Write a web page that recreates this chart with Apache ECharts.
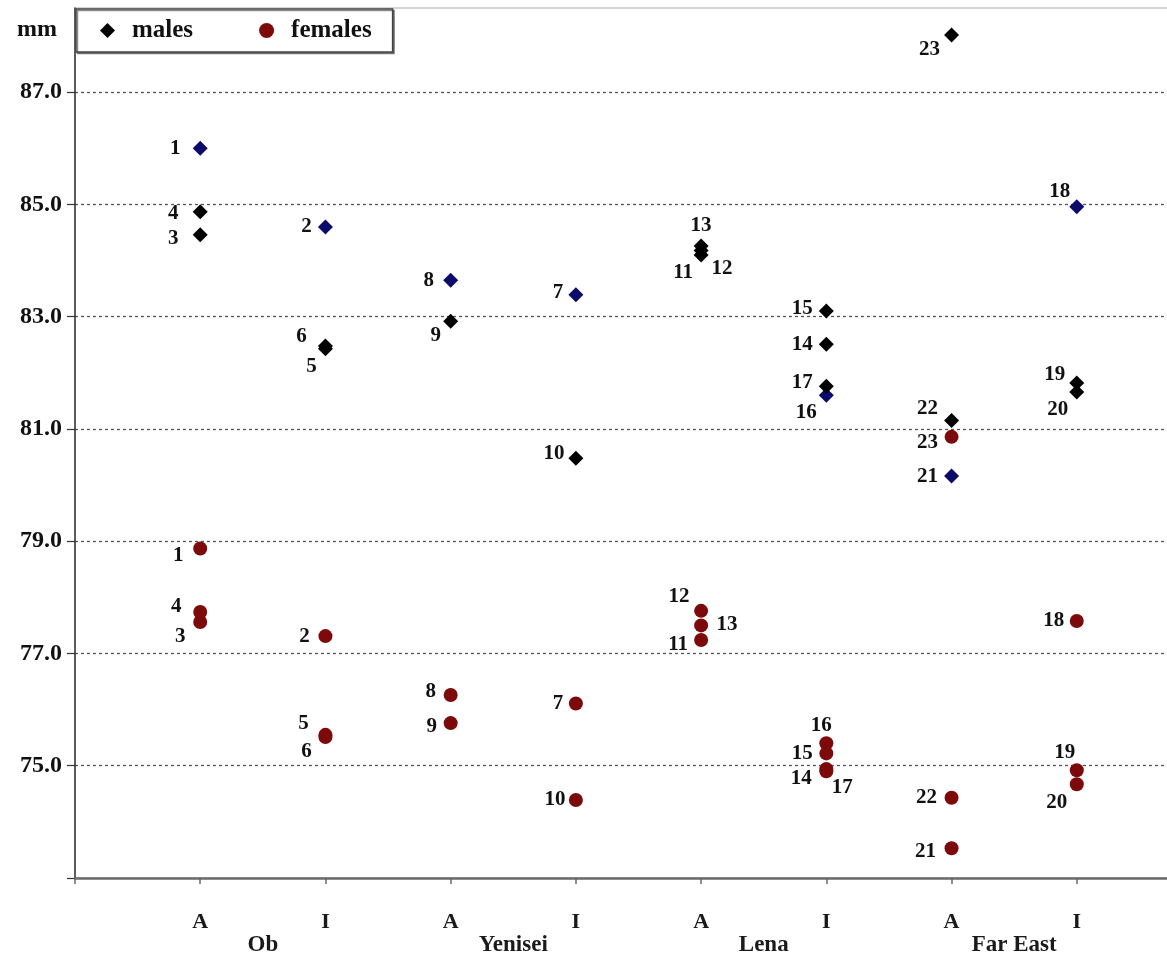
<!DOCTYPE html>
<html>
<head>
<meta charset="utf-8">
<script src="https://cdn.jsdelivr.net/npm/echarts@6/dist/echarts.min.js"></script>
<style>
  html, body { margin: 0; padding: 0; background: #fff; }
  #chart1 { width: 1167px; height: 959px; }
</style>
</head>
<body>
<div id="chart1"></div>
<script>
// categories along the x axis (1..8), region under each A/I pair
const categories = ['A', 'I', 'A', 'I', 'A', 'I', 'A', 'I'];
const regions = ['Ob', 'Yenisei', 'Lena', 'Far East'];
const yLabels = [75, 77, 79, 81, 83, 85, 87];

// sample number -> category position (same for both sexes)
const sampleCat = [1, 2, 1, 1, 2, 2, 4, 3, 3, 4, 5, 5, 5, 6, 6, 6, 6, 8, 8, 8, 7, 7, 7];
// values in mm, index = sample number - 1
const maleMm = [86.0, 84.60, 84.46, 84.87, 82.43, 82.48, 83.39, 83.65, 82.92, 80.48, 84.10, 84.18,
  84.26, 82.51, 83.10, 81.60, 81.76, 84.96, 81.82, 81.66, 80.16, 81.15, 88.02];
const femaleMm = [78.87, 77.31, 77.56, 77.74, 75.55, 75.51, 76.11, 76.26, 75.76, 74.39, 77.24, 77.76,
  77.50, 74.94, 75.22, 75.40, 74.90, 77.58, 74.92, 74.67, 73.53, 74.43, 80.86];
// male samples drawn in blue
const maleBlue = [1, 2, 7, 8, 16, 18, 21];

// where the number sits next to each mark (dx, dy in px)
const maleLabelOff = {
  1: [-25, 0], 2: [-19, 0], 3: [-27, 4], 4: [-27, 2], 5: [-14, 18], 6: [-24, -9], 7: [-18, -2],
  8: [-22, 0], 9: [-15, 14], 10: [-22, -5], 11: [-18, 18], 12: [21, 18], 13: [0, -20], 14: [-24, 0],
  15: [-24, -3], 16: [-20, 17], 17: [-24, -4], 18: [-17, -15], 19: [-22, -8], 20: [-19, 18],
  21: [-24, 0], 22: [-24, -12], 23: [-22, 15]
};
const femaleLabelOff = {
  1: [-22, 7], 2: [-21, 0], 3: [-20, 15], 4: [-24, -5], 5: [-22, -11], 6: [-19, 14], 7: [-18, 0],
  8: [-20, -3], 9: [-19, 3], 10: [-21, 0], 11: [-23, 5], 12: [-22, -14], 13: [26, -1], 14: [-25, 9],
  15: [-24, 0], 16: [-5, -18], 17: [16, 16], 18: [-23, 0], 19: [-12, -18], 20: [-20, 18],
  21: [-26, 3], 22: [-25, 0], 23: [-24, 6]
};

const serif = 'Liberation Serif';
const labelFont = { fontFamily: serif, fontWeight: 'bold', fontSize: 21, color: '#111' };

function buildData (values, offsets, blue) {
  return values.map((v, i) => {
    const id = i + 1;
    const item = {
      name: String(id),
      value: [sampleCat[i], v],
      label: { offset: offsets[id] }
    };
    if (blue && blue.indexOf(id) >= 0) {
      item.itemStyle = { color: '#0b0b6b', opacity: 1 };
    }
    return item;
  });
}

const option = {
  animation: false,
  backgroundColor: '#fff',
  grid: {
    left: 75,
    right: -35,
    top: 8,
    bottom: 81,
    outerBoundsMode: 'none',
    show: true,
    borderColor: '#aaa',
    borderWidth: 1
  },
  legend: {
    left: 76,
    top: 9,
    padding: [9, 21, 9, 24],
    itemWidth: 15,
    itemHeight: 15,
    itemGap: 66,
    symbolKeepAspect: true,
    backgroundColor: '#fff',
    borderColor: '#444',
    borderWidth: 1.5,
    shadowColor: 'rgba(0,0,0,0.45)',
    shadowOffsetX: 1.5,
    shadowOffsetY: 1.5,
    textStyle: {
      fontFamily: serif, fontWeight: 'bold', fontSize: 25, color: '#111',
      padding: [0, 0, 0, 12]
    },
    data: [
      { name: 'males', icon: 'diamond' },
      { name: 'females', icon: 'circle' }
    ]
  },
  xAxis: [
    {
      type: 'value',
      min: 0,
      max: 9,
      interval: 1,
      axisLine: { lineStyle: { color: '#6a6a6a', width: 2.5 } },
      axisTick: { show: true, length: 6, lineStyle: { color: '#6a6a6a', width: 1.5 } },
      splitLine: { show: false },
      axisLabel: {
        margin: 33,
        fontFamily: serif,
        fontWeight: 'bold',
        fontSize: 22,
        color: '#1a1a1a',
        showMaxLabel: false,
        formatter: v => categories[v - 1] || ''
      }
    },
    {
      type: 'value',
      position: 'bottom',
      min: 0,
      max: 9,
      interval: 0.5,
      axisLine: { show: false },
      axisTick: { show: false },
      splitLine: { show: false },
      axisLabel: {
        margin: 56,
        fontFamily: serif,
        fontWeight: 'bold',
        fontSize: 23,
        color: '#1a1a1a',
        showMaxLabel: false,
        formatter: v => {
          const k = (v - 1.5) / 2;
          return Number.isInteger(k) && regions[k] ? regions[k] : '';
        }
      }
    }
  ],
  yAxis: {
    type: 'value',
    min: 73,
    max: 88.5,
    interval: 2,
    name: 'mm',
    nameLocation: 'end',
    nameGap: -34,
    nameTextStyle: {
      fontFamily: serif, fontWeight: 'bold', fontSize: 24, color: '#111',
      align: 'right', verticalAlign: 'bottom', padding: [0, 18, 0, 0]
    },
    axisLine: { show: true, lineStyle: { color: '#333', width: 1.5 } },
    axisTick: { show: true, length: 8, lineStyle: { color: '#333', width: 1.2 } },
    splitLine: {
      show: true,
      showMinLine: false,
      showMaxLine: false,
      lineStyle: { color: '#555', type: [3, 3], width: 1.3 }
    },
    axisLabel: {
      margin: 13,
      fontFamily: serif,
      fontWeight: 'bold',
      fontSize: 24,
      color: '#111',
      showMaxLabel: false,
      formatter: v => (yLabels.indexOf(Math.round(v * 10) / 10) >= 0 ? v.toFixed(1) : '')
    }
  },
  series: [
    {
      name: 'males',
      type: 'scatter',
      symbol: 'diamond',
      symbolSize: 15,
      itemStyle: { color: '#000', opacity: 1 },
      label: Object.assign({ show: true, position: 'inside', formatter: '{b}' }, labelFont),
      data: buildData(maleMm, maleLabelOff, maleBlue)
    },
    {
      name: 'females',
      type: 'scatter',
      symbol: 'circle',
      symbolSize: 14,
      itemStyle: { color: '#7d0a0a', opacity: 1 },
      label: Object.assign({ show: true, position: 'inside', formatter: '{b}' }, labelFont),
      data: buildData(femaleMm, femaleLabelOff, null)
    }
  ]
};

const mychart = echarts.init(document.getElementById('chart1'));
mychart.setOption(option);
</script>
</body>
</html>
